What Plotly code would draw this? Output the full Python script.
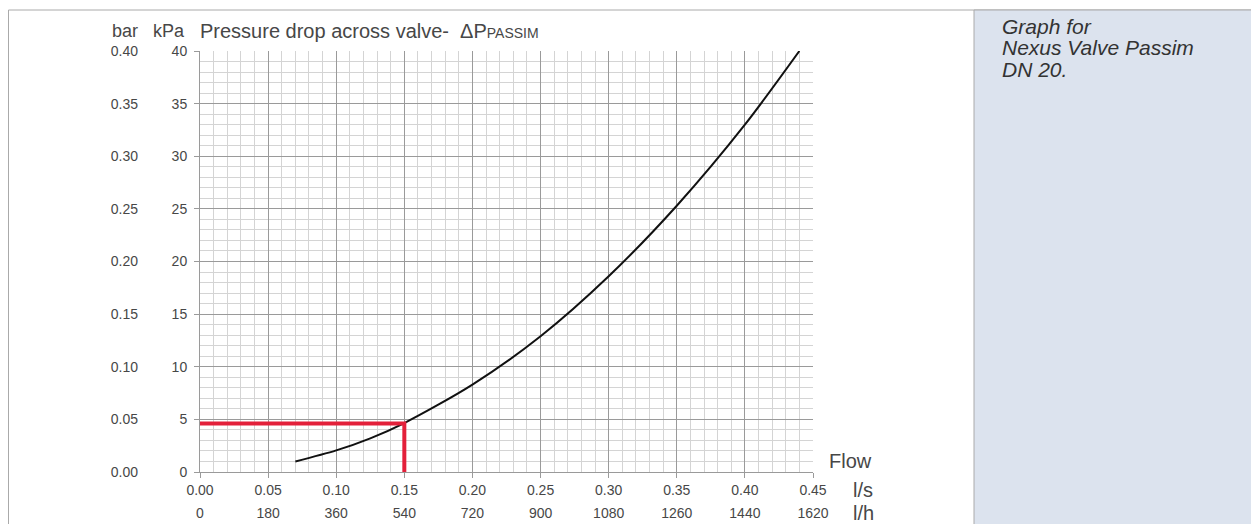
import plotly.graph_objects as go

# flow (l/s) vs pressure drop (kPa)
flow_ls = [0.07, 0.10, 0.125, 0.15, 0.20, 0.25, 0.30, 0.35, 0.40, 0.44]
dp_kpa = [1.0, 2.05, 3.2, 4.65, 8.3, 12.9, 18.6, 25.3, 33.0, 40.0]

# design point (red marker lines)
design_flow = 0.15
design_dp = 4.6

ls_ticks = [0.00, 0.05, 0.10, 0.15, 0.20, 0.25, 0.30, 0.35, 0.40, 0.45]
lh_ticks = [0, 180, 360, 540, 720, 900, 1080, 1260, 1440, 1620]
kpa_ticks = [0, 5, 10, 15, 20, 25, 30, 35, 40]
bar_ticks = [0.00, 0.05, 0.10, 0.15, 0.20, 0.25, 0.30, 0.35, 0.40]

W, H = 1259, 524
OX, OY = 8, 8          # page offset of the plot div
L, R, T, B = 200, 813, 51, 472   # plot area in screen pixels
TXT = "#474747"
FONT = "Liberation Sans, Arial, sans-serif"


def px(x):
    return (x - L) / (R - L)


def py(y):
    return (B - y) / (B - T)


fig = go.Figure()

fig.add_trace(go.Scatter(
    x=flow_ls, y=dp_kpa, mode="lines",
    line=dict(color="#111111", width=2, shape="spline", smoothing=0.8),
    hoverinfo="skip", showlegend=False
))

fig.add_trace(go.Scatter(
    x=[0, design_flow, design_flow], y=[design_dp, design_dp, 0],
    mode="lines", line=dict(color="#E3203A", width=4),
    hoverinfo="skip", showlegend=False
))

# secondary scales (l/h under l/s, bar left of kPa)
fig.add_trace(go.Scatter(x=[lh_ticks[0], lh_ticks[-1]], y=[0, 0], xaxis="x2", yaxis="y2",
                         mode="markers", marker=dict(opacity=0), hoverinfo="skip", showlegend=False))

grid_minor = "#d4d4d4"
grid_major = "#9a9a9a"
tickfont = dict(size=14, color=TXT)

fig.update_layout(
    width=W, height=H,
    margin=dict(l=L - OX, r=W - (R - OX), t=T - OY, b=H - (B - OY)),
    paper_bgcolor="white", plot_bgcolor="white",
    font=dict(family=FONT, color=TXT, size=14),
    xaxis=dict(
        range=[0, 0.45], tickvals=ls_ticks, ticktext=[f"{v:.2f}" for v in ls_ticks],
        showgrid=True, gridcolor=grid_major, gridwidth=1,
        minor=dict(dtick=0.01, tick0=0, showgrid=True, gridcolor=grid_minor, gridwidth=1,
                   ticks=""),
        ticks="outside", ticklen=5, tickcolor=grid_major,
        showline=True, linecolor=grid_major, zeroline=False,
        tickfont=tickfont, ticklabelstandoff=0, automargin=False,
    ),
    xaxis2=dict(
        range=[0, 1620], overlaying="x", anchor="y", side="bottom",
        tickvals=lh_ticks, ticktext=[str(v) for v in lh_ticks],
        showgrid=False, showline=False, zeroline=False, ticks="",
        tickfont=tickfont, ticklabelstandoff=31, automargin=False,
    ),
    yaxis=dict(
        range=[0, 40], tickvals=kpa_ticks,
        showgrid=True, gridcolor=grid_major, gridwidth=1,
        minor=dict(dtick=1, tick0=0, showgrid=True, gridcolor=grid_minor, gridwidth=1,
                   ticks=""),
        ticks="outside", ticklen=5, tickcolor=grid_major,
        showline=True, linecolor=grid_major, zeroline=False,
        tickfont=tickfont, ticklabelstandoff=4, automargin=False,
    ),
    yaxis2=dict(
        range=[0, 0.40], overlaying="y", anchor="x", side="left",
        tickvals=bar_ticks, ticktext=[f"{v:.2f}" for v in bar_ticks],
        showgrid=False, showline=False, zeroline=False, ticks="",
        tickfont=tickfont, ticklabelstandoff=61, automargin=False,
    ),
    shapes=[
        # outer frame
        dict(type="rect", xref="paper", yref="paper",
             x0=px(8.5), x1=px(W + 20), y0=py(10), y1=py(H + 20),
             line=dict(color="#aaaaaa", width=1), fillcolor="rgba(0,0,0,0)", layer="below"),
        # right info panel
        dict(type="rect", xref="paper", yref="paper",
             x0=px(974), x1=px(W + 20), y0=py(10), y1=py(H + 20),
             line=dict(color="#aaaaaa", width=1), fillcolor="#DCE3EE", layer="below"),
    ],
    annotations=[
        dict(text="bar", x=px(140), y=py(31), xref="paper", yref="paper",
             xanchor="right", yanchor="middle", showarrow=False, font=dict(size=18, color=TXT)),
        dict(text="kPa", x=px(187), y=py(31), xref="paper", yref="paper",
             xanchor="right", yanchor="middle", showarrow=False, font=dict(size=18, color=TXT)),
        dict(text="Pressure drop across valve-&nbsp; ΔP<span style='font-size:14px'>PASSIM</span>",
             x=px(198), y=py(31), xref="paper", yref="paper",
             xanchor="left", yanchor="middle", showarrow=False, font=dict(size=20, color=TXT)),
        dict(text="Flow", x=px(827), y=py(461), xref="paper", yref="paper",
             xanchor="left", yanchor="middle", showarrow=False, font=dict(size=20, color=TXT)),
        dict(text="l/s", x=px(851), y=py(490), xref="paper", yref="paper",
             xanchor="left", yanchor="middle", showarrow=False, font=dict(size=20, color=TXT)),
        dict(text="l/h", x=px(851), y=py(513), xref="paper", yref="paper",
             xanchor="left", yanchor="middle", showarrow=False, font=dict(size=20, color=TXT)),
    ] + [
        dict(text=f"<i>{line}</i>", x=px(1000), y=py(26 + 21.5 * i), xref="paper", yref="paper",
             xanchor="left", yanchor="middle", showarrow=False,
             font=dict(size=21, color="#333333"))
        for i, line in enumerate(["Graph for", "Nexus Valve Passim", "DN 20."])
    ],
)

fig.write_html("out.html")
